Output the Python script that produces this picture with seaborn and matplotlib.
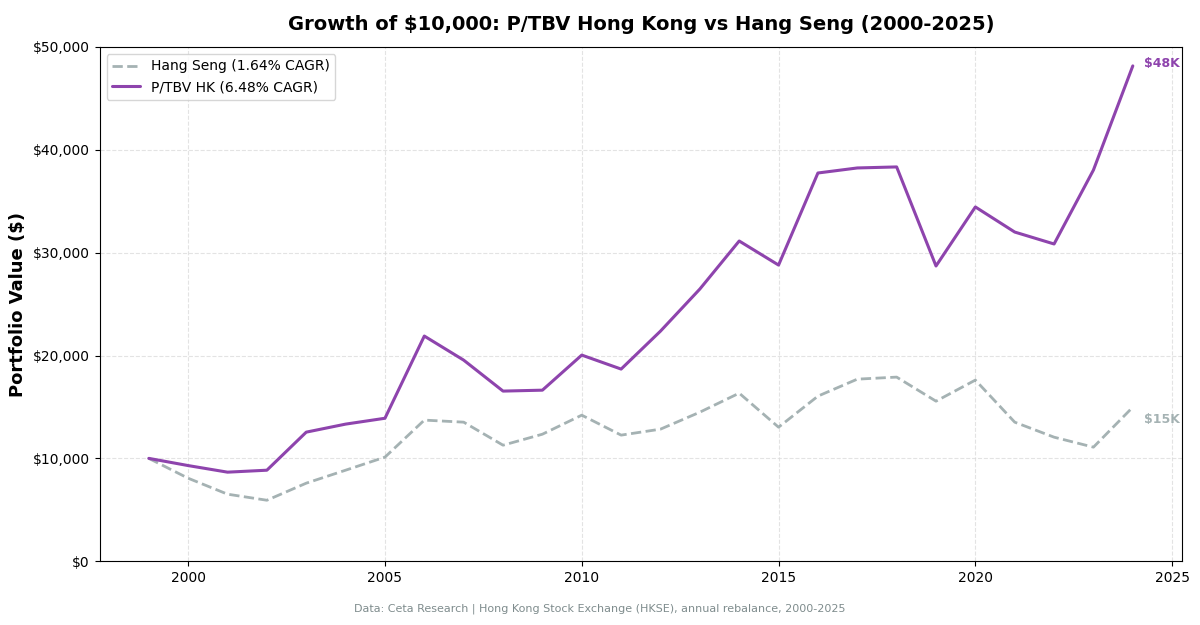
import pandas as pd
import seaborn as sns
import matplotlib.pyplot as plt
from matplotlib.ticker import FuncFormatter

# Year-end portfolio values, starting at $10,000
years = list(range(1999, 2025))
ptbv_hk = [10000, 9300, 8660, 8850, 12550, 13330, 13900, 21890, 19550, 16540,
           16630, 20040, 18680, 22370, 26460, 31130, 28790, 37740, 38230, 38330,
           28700, 34440, 32000, 30840, 38030, 48150]
hang_seng = [10000, 8070, 6520, 5930, 7590, 8850, 10120, 13720, 13520, 11280,
             12350, 14200, 12260, 12840, 14490, 16340, 13030, 16050, 17700, 17900,
             15560, 17610, 13520, 12060, 11090, 14980]

purple = '#8E44AD'
grey = '#95A5A6'

df = pd.DataFrame({'Year': years, 'P/TBV HK': ptbv_hk, 'Hang Seng': hang_seng})

sns.set_style('ticks')
plt.rcParams.update({'text.color': 'black', 'axes.labelcolor': 'black',
                     'xtick.color': 'black', 'ytick.color': 'black',
                     'axes.edgecolor': 'black'})
fig, ax = plt.subplots(figsize=(12, 6.25), dpi=100)

sns.lineplot(data=df, x='Year', y='Hang Seng', ax=ax, color=grey, linewidth=2,
             linestyle='--', alpha=0.85, label='Hang Seng (1.64% CAGR)')
sns.lineplot(data=df, x='Year', y='P/TBV HK', ax=ax, color=purple, linewidth=2.2,
             label='P/TBV HK (6.48% CAGR)')

# End labels
ax.annotate('$48K', xy=(years[-1], ptbv_hk[-1]), xytext=(8, 2), textcoords='offset points',
            color=purple, fontsize=9, fontweight='bold', va='center')
ax.annotate('$15K', xy=(years[-1], hang_seng[-1]), xytext=(8, -9), textcoords='offset points',
            color=grey, fontsize=9, fontweight='bold', va='center', alpha=0.85)

ax.set_ylim(0, 50000)
ax.yaxis.set_major_formatter(FuncFormatter(lambda v, p: f'${v:,.0f}'))
ax.grid(True, linestyle='--', color='#d8d8d8', alpha=0.7, linewidth=0.8)
ax.tick_params(labelsize=10, colors='black')
ax.set_xlabel('')
ax.set_ylabel('Portfolio Value ($)', fontsize=13, fontweight='bold')
ax.set_title('Growth of $10,000: P/TBV Hong Kong vs Hang Seng (2000-2025)',
             fontsize=14, fontweight='bold', pad=12)
ax.legend(loc='upper left', fontsize=10)

fig.text(0.5, 0.022, 'Data: Ceta Research | Hong Kong Stock Exchange (HKSE), annual rebalance, 2000-2025',
         ha='center', fontsize=8, color='#7F8C8D')

plt.subplots_adjust(left=0.083, right=0.985, top=0.925, bottom=0.102)
plt.savefig('out.png')
